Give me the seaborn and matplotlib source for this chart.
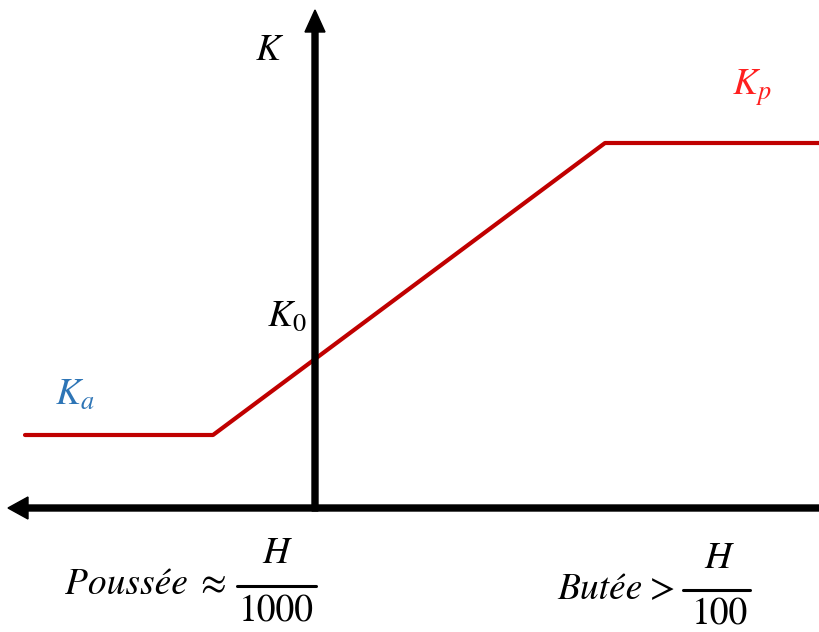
import matplotlib
matplotlib.use("Agg")
import matplotlib.pyplot as plt
import seaborn as sns
import pandas as pd

# Data (diagram units; origin at the axes crossing)
strain = [-290, -102, 290, 505]
K_values = [73, 73, 365, 365]
labels = {"K": "$K$", "Kp": "$K_p$", "K0": "$K_0$", "Ka": "$K_a$"}

sns.set_theme(style="white")
plt.rcParams["mathtext.fontset"] = "stix"
plt.rcParams["text.color"] = "black"

fig = plt.figure(figsize=(8.2, 6.32), dpi=100)
ax = fig.add_axes([0, 0, 1, 1])
ax.set_xlim(-315, 505)
ax.set_ylim(-124, 508)
ax.axis("off")

df = pd.DataFrame({"x": strain, "K": K_values})
sns.lineplot(data=df, x="x", y="K", ax=ax, color="#C00000", lw=3, sort=False, zorder=2)

# axes arrows
ax.arrow(505, 0, -812, 0, width=6, head_width=22, head_length=20,
         length_includes_head=True, color="black", zorder=3)
ax.arrow(0, -3, 0, 501, width=6, head_width=20, head_length=22,
         length_includes_head=True, color="black", zorder=3)

fs = 27
ax.text(-45, 458, labels["K"], fontsize=fs, ha="center", va="center", color="black")
ax.text(437, 420, labels["Kp"], fontsize=fs, ha="center", va="center", color="#FF2020")
ax.text(-28, 192, labels["K0"], fontsize=fs, ha="center", va="center", color="black")
ax.text(-240, 113, labels["Ka"], fontsize=fs, ha="center", va="center", color="#2E75B6")

# bottom annotations
tfont = dict(family="STIXGeneral", style="italic", fontsize=fs, color="black")
rfont = dict(family="STIXGeneral", fontsize=fs, color="black")
ax.text(-189, -77, "Poussée", ha="center", va="center", **tfont)
ax.text(-102, -77, "≈", ha="center", va="center", **rfont)
ax.plot([-78, 1], [-78, -78], color="black", lw=2.2)
ax.text(-39, -46, "H", ha="center", va="center", **tfont)
ax.text(-39, -104, "1000", ha="center", va="center", **rfont)

ax.text(285, -82, "Butée", ha="center", va="center", **tfont)
ax.text(348, -82, ">", ha="center", va="center", **rfont)
ax.plot([368, 435], [-82, -82], color="black", lw=2.2)
ax.text(403, -51, "H", ha="center", va="center", **tfont)
ax.text(405, -107, "100", ha="center", va="center", **rfont)

fig.savefig("out.png", dpi=100)
